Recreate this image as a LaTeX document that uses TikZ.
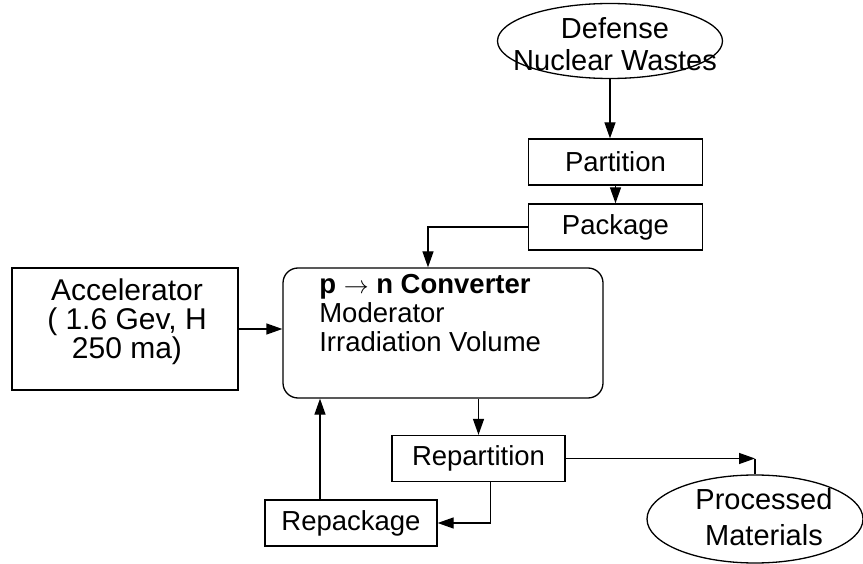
\documentclass[tikz,border=0pt]{standalone}
\usepackage{fontspec}
\setmainfont{Liberation Sans}
\usetikzlibrary{shapes.geometric,arrows.meta}

\begin{document}
\begin{tikzpicture}[x=1pt, y=-1pt, line width=1.3pt,
    >={Triangle[length=16pt,width=11pt]},
    every node/.style={font=\fontsize{27.5}{29}\selectfont},
    stage/.style={draw, rectangle, minimum width=174pt, minimum height=46pt, inner sep=0pt},
    blob/.style={draw, ellipse, inner sep=0pt}]
    \useasboundingbox (0,0) rectangle (863,564);

    % Waste input
    \node[blob, minimum width=225pt, minimum height=75pt] (defense) at (610,41) {};
    \node[align=center, font=\fontsize{29}{32}\selectfont] (defense-text) at (615,44) {Defense\\Nuclear Wastes};
    \node[stage] (partition) at (615.5,162) {Partition};
    \node[stage] (package) at (615.5,227) {Package};
    \draw[->] (defense.south) -- (defense.south |- partition.north);
    \draw[->] (partition.south) -- (package.north);

    % Accelerator and converter
    \node[draw, minimum width=226pt, minimum height=122pt] (accel) at (125,329) {};
    \node[align=center, font=\fontsize{30}{29}\selectfont] (accel-text) at (127,322)
        {Accelerator\\( 1.6 Gev, H\\ 250 ma)};
    \node[draw, rounded corners=15pt, minimum width=320pt, minimum height=130pt] (converter) at (443,333) {};
    \node[align=left, anchor=west] (converter-text) at ([xshift=33pt,yshift=20pt]converter.west)
        {\textbf{p $\rightarrow$ n Converter}\\Moderator\\Irradiation Volume};
    \draw[->] (package.west) -| ([xshift=-15pt]converter.north);
    \draw[->] (accel.east) -- (accel.east -| converter.west);

    % Recycle loop
    \node[stage, minimum width=173pt] (repartition) at (478.5,458.5) {Repartition};
    \node[stage, minimum width=172pt] (repackage) at (351,523) {Repackage};
    \draw[->] (repartition.north |- converter.south) -- (repartition.north);
    \draw[->] ([xshift=12pt]repartition.south) |- (repackage.east);
    \draw[->] ([xshift=-31pt]repackage.north) -- ([xshift=-31pt]repackage.north |- converter.south);

    % Output
    \node[blob, minimum width=216pt, minimum height=88pt] (processed) at (755,519) {};
    \node[align=center, font=\fontsize{29}{36}\selectfont] (processed-text) at (764,517) {Processed\\Materials};
    \coordinate (drop) at (repartition.east -| processed.north);
    \draw[->] (repartition.east) -- (drop);
    \draw (drop) -- (processed.north);
\end{tikzpicture}
\end{document}
